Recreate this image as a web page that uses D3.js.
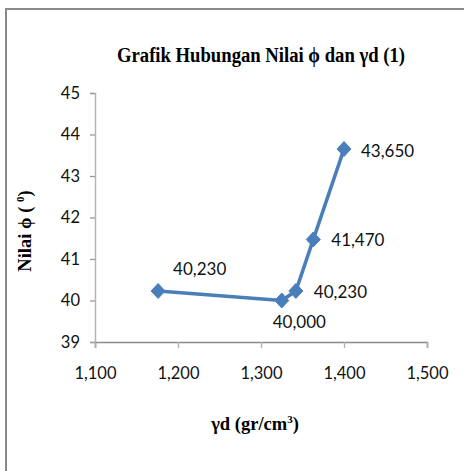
<!DOCTYPE html>
<html>
<head>
<meta charset="utf-8">
<script src="https://cdn.jsdelivr.net/npm/d3@7"></script>
<style>
  html, body { margin: 0; padding: 0; background: #fff; }
  svg { display: block; }
</style>
</head>
<body>
<svg id="chart" width="464" height="471"></svg>
<script>
// Dry unit weight (gr/cm3, shown with comma grouping) vs friction angle
const gammaD = [1176, 1325, 1342, 1363, 1400];
const phi = [40.23, 40.0, 40.23, 41.47, 43.65];
const pointLabels = ["40,230", "40,000", "40,230", "41,470", "43,650"];
const xTicks = [1100, 1200, 1300, 1400, 1500];
const yTicks = [39, 40, 41, 42, 43, 44, 45];

const svg = d3.select("#chart");
const W = 464, H = 471;
const plot = { left: 95, right: 427, top: 93, bottom: 342 };

const x = d3.scaleLinear().domain([1100, 1500]).range([plot.left, plot.right]);
const y = d3.scaleLinear().domain([39, 45]).range([plot.bottom, plot.top]);

// outer chart frame (left and top edges)
svg.append("path")
  .attr("d", `M6,${H} L6,9 L${W},9`)
  .attr("fill", "none")
  .attr("stroke", "#8a8a8a")
  .attr("stroke-width", 2);

const numFmt = d3.formatLocale({ decimal: ".", thousands: ",", grouping: [3], currency: ["", ""] }).format(",d");
const tickFont = "Lato, 'Open Sans', sans-serif";

// y axis
const yAxis = svg.append("g")
  .attr("transform", `translate(${plot.left},0)`)
  .call(d3.axisLeft(y).tickValues(yTicks).tickSize(5).tickPadding(10).tickFormat(d3.format("d")));
yAxis.select(".domain").attr("stroke", "#b4b4b4").attr("stroke-width", 1.5);
yAxis.selectAll(".tick line").attr("stroke", "#9a9a9a").attr("stroke-width", 1.3);
yAxis.selectAll(".tick text")
  .attr("font-family", tickFont).attr("font-size", 16.5).attr("fill", "#111");

// x axis
const xAxis = svg.append("g")
  .attr("transform", `translate(0,${plot.bottom})`)
  .call(d3.axisBottom(x).tickValues(xTicks).tickSize(6).tickPadding(19).tickFormat(numFmt));
xAxis.select(".domain").attr("stroke", "#8a8a8a").attr("stroke-width", 1.6);
xAxis.selectAll(".tick line").attr("stroke", "#b0b0b0").attr("stroke-width", 1.3);
xAxis.selectAll(".tick text")
  .attr("font-family", tickFont).attr("font-size", 16.5).attr("fill", "#111");

// series line
const pts = gammaD.map((g, i) => [g, phi[i]]);
svg.append("path")
  .datum(pts)
  .attr("fill", "none")
  .attr("stroke", "#4a7ebb")
  .attr("stroke-width", 3.6)
  .attr("stroke-linejoin", "round")
  .attr("d", d3.line().x(d => x(d[0])).y(d => y(d[1])));

// diamond markers
svg.append("g").selectAll("path")
  .data(pts)
  .join("path")
  .attr("transform", d => `translate(${x(d[0])},${y(d[1])})`)
  .attr("d", "M0,-7.5 L7,0 L0,7.5 L-7,0 Z")
  .attr("fill", "#4a7ebb")
  .attr("stroke", "#4a7ebb")
  .attr("stroke-width", 1);

// data labels (offsets from each point)
const labelOffsets = [[15, -16], [-9, 27], [18, 7], [18, 7], [17, 8]];
svg.append("g").selectAll("text")
  .data(pts)
  .join("text")
  .attr("x", (d, i) => x(d[0]) + labelOffsets[i][0])
  .attr("y", (d, i) => y(d[1]) + labelOffsets[i][1])
  .attr("font-family", tickFont)
  .attr("font-size", 17)
  .attr("fill", "#111")
  .text((d, i) => pointLabels[i]);

// chart title
svg.append("text")
  .attr("x", 261).attr("y", 62)
  .attr("text-anchor", "middle")
  .attr("font-family", "'Liberation Serif', 'Times New Roman', serif")
  .attr("font-weight", "bold")
  .attr("font-size", 20)
  .attr("textLength", 288)
  .attr("lengthAdjust", "spacingAndGlyphs")
  .text("Grafik Hubungan Nilai ϕ dan γd (1)");

// y axis title
const yt = svg.append("text")
  .attr("transform", "translate(31,231) rotate(-90)")
  .attr("text-anchor", "middle")
  .attr("font-family", "'Liberation Serif', 'Times New Roman', serif")
  .attr("font-weight", "bold")
  .attr("font-size", 18.5);
yt.append("tspan").text("Nilai ϕ ( ");
yt.append("tspan").attr("font-size", 11).attr("dy", -7).text("0");
yt.append("tspan").attr("dy", 7).text(")");

// x axis title
const xt = svg.append("text")
  .attr("x", 255).attr("y", 430)
  .attr("text-anchor", "middle")
  .attr("font-family", "'Liberation Serif', 'Times New Roman', serif")
  .attr("font-weight", "bold")
  .attr("font-size", 18.5);
xt.append("tspan").text("γd (gr/cm");
xt.append("tspan").attr("font-size", 11).attr("dy", -7).text("3");
xt.append("tspan").attr("dy", 7).text(")");
</script>
</body>
</html>
